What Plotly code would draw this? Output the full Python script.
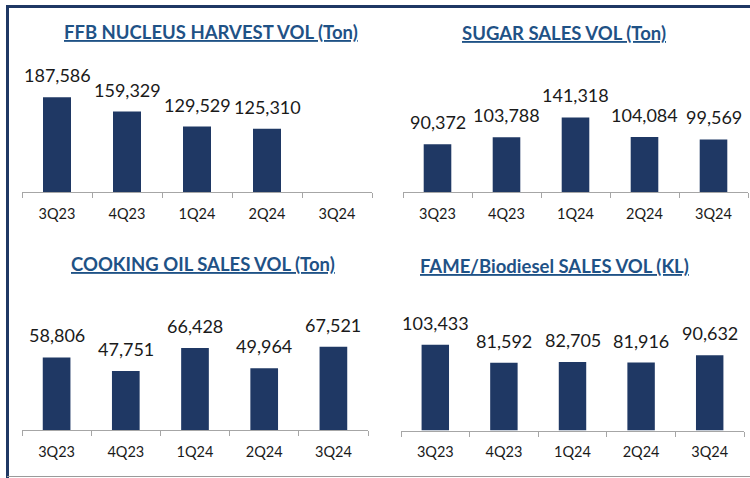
import plotly.graph_objects as go

W, H = 750, 478

quarters = ["3Q23", "4Q23", "1Q24", "2Q24", "3Q24"]
ffb_harvest = [187586, 159329, 129529, 125310, None]
sugar_sales = [90372, 103788, 141318, 104084, 99569]
cooking_oil_sales = [58806, 47751, 66428, 49964, 67521]
fame_sales = [103433, 81592, 82705, 81916, 90632]

titles = [
    "FFB NUCLEUS HARVEST VOL (Ton)",
    "SUGAR SALES VOL (Ton)",
    "COOKING OIL SALES VOL (Ton)",
    "FAME/Biodiesel SALES VOL (KL)",
]
series = [ffb_harvest, sugar_sales, cooking_oil_sales, fame_sales]

BAR = "#1F3864"
TITLE_C = "#1F5286"
AXIS_C = "#A6A6A6"
FONT = "Lato"

# panel geometry in pixels: x0, x1, ytop, ybase, yrange max, title center x, title y
panels = [
    (22, 372, 60, 192, 261400, 211, 32),
    (403, 748, 60, 192, 250000, 564, 33),
    (22, 368, 300, 430, 105300, 203, 264),
    (401, 744, 300, 430.5, 157300, 554, 266),
]

def px(x):
    return x / W

def py(y):
    return 1 - y / H

fig = go.Figure()
annotations = []
layout = {}
for i, (vals, title, g) in enumerate(zip(series, titles, panels), start=1):
    x0, x1, yt, yb, ymax, tx, ty = g
    xa = "x" if i == 1 else f"x{i}"
    ya = "y" if i == 1 else f"y{i}"
    fig.add_trace(go.Bar(
        x=quarters, y=vals, xaxis=xa, yaxis=ya,
        marker=dict(color=BAR, line=dict(width=0)),
        width=0.4, showlegend=False, hoverinfo="x+y",
    ))
    layout["xaxis" if i == 1 else f"xaxis{i}"] = dict(
        domain=[px(x0), px(x1)], anchor=ya,
        type="category", categoryorder="array", categoryarray=quarters,
        range=[-0.5, 4.5],
        showline=True, linecolor=AXIS_C, linewidth=1.3,
        ticks="outside", tickson="boundaries", ticklen=5, tickcolor=AXIS_C, tickwidth=1.3,
        showgrid=False, zeroline=False,
        tickfont=dict(family=FONT, size=14.5, color="#1a1a1a"),
        ticklabelstandoff=8,
        fixedrange=True,
    )
    layout["yaxis" if i == 1 else f"yaxis{i}"] = dict(
        domain=[py(yb), py(yt)], anchor=xa, range=[0, ymax],
        visible=False, fixedrange=True,
    )
    for q, v in zip(quarters, vals):
        if v is None:
            continue
        annotations.append(dict(
            x=q, y=v, xref=xa, yref=ya, text=f"{v:,}", showarrow=False,
            yanchor="middle", yshift=22,
            font=dict(family=FONT, size=18, color="#1a1a1a"),
        ))
    annotations.append(dict(
        x=px(tx), y=py(ty), xref="paper", yref="paper",
        text=f"<b><u>{title}</u></b>", showarrow=False,
        xanchor="center", yanchor="middle",
        font=dict(family=FONT, size=18.5, color=TITLE_C),
    ))

shapes = [
    dict(type="line", xref="paper", yref="paper", x0=px(6), x1=px(750), y0=py(6.5), y1=py(6.5),
         line=dict(color=BAR, width=3)),
    dict(type="line", xref="paper", yref="paper", x0=px(7.5), x1=px(7.5), y0=py(5), y1=py(478),
         line=dict(color=BAR, width=3)),
    dict(type="line", xref="paper", yref="paper", x0=px(7), x1=px(750), y0=py(476.5), y1=py(476.5),
         line=dict(color="#9A9A9A", width=1)),
]

fig.update_layout(
    width=W, height=H, margin=dict(l=0, r=0, t=0, b=0),
    paper_bgcolor="white", plot_bgcolor="white",
    annotations=annotations, shapes=shapes, bargap=0.6,
    **layout,
)

fig.write_html(
    "out.html",
    config={"displayModeBar": False},
    post_script="document.body.style.margin='0';document.body.style.overflow='hidden';",
)
